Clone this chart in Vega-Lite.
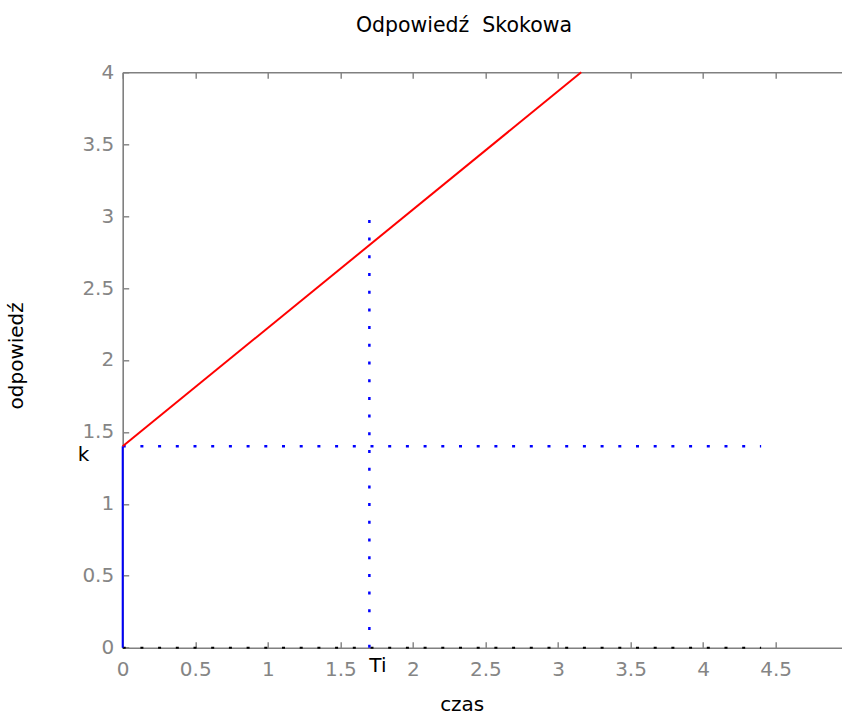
{
  "$schema": "https://vega.github.io/schema/vega-lite/v6.json",
  "autosize": "none",
  "padding": {"left": 122.7, "top": 72.3, "right": 0, "bottom": 67.3},
  "width": 725.5,
  "height": 575.4,
  "background": "white",
  "config": {
    "font": "DejaVu Sans",
    "view": {"stroke": null},
    "axis": {
      "grid": false,
      "domainColor": "#808080",
      "domainWidth": 1.6,
      "tickColor": "#808080",
      "tickWidth": 1.4,
      "labelColor": "#858585",
      "labelFontSize": 20,
      "titleFontSize": 20,
      "titleFontWeight": "normal",
      "titleColor": "black"
    }
  },
  "title": {
    "text": "Odpowiedź\u00a0 Skokowa",
    "fontSize": 20.5,
    "fontWeight": "normal",
    "color": "black",
    "anchor": "middle",
    "frame": "group",
    "dx": -21.5,
    "baseline": "alphabetic",
    "offset": 10
  },
  "data": {
    "values": [
      {"series": "step", "x": 0, "y": 0, "ord": 0},
      {"series": "step", "x": 0, "y": 1.4, "ord": 1},
      {"series": "resp", "x": 0, "y": 1.4, "ord": 0},
      {"series": "resp", "x": 3.16, "y": 4.0, "ord": 1},
      {"series": "kline", "x": 0, "y": 1.4, "ord": 0},
      {"series": "kline", "x": 4.4, "y": 1.4, "ord": 1},
      {"series": "tiline", "x": 1.7, "y": 0, "ord": 0},
      {"series": "tiline", "x": 1.7, "y": 3.0, "ord": 1},
      {"series": "zero", "x": 0, "y": 0, "ord": 0},
      {"series": "zero", "x": 4.4, "y": 0, "ord": 1},
      {"series": "label", "x": -0.31, "y": 1.34, "ord": 0, "label": "k"},
      {"series": "label", "x": 1.7, "y": -0.13, "ord": 1, "label": "Ti"}
    ]
  },
  "resolve": {"axis": {"x": "independent", "y": "independent"}},
  "layer": [
    {
      "transform": [{"filter": "datum.series === 'zero'"}],
      "mark": {"type": "line", "color": "black", "strokeWidth": 2, "strokeDash": [3, 14.7], "strokeCap": "butt"},
      "encoding": {
        "x": {"field": "x", "type": "quantitative", "scale": {"domain": [0, 5], "nice": false, "zero": false},
          "axis": {"orient": "bottom", "values": [0, 0.5, 1, 1.5, 2, 2.5, 3, 3.5, 4, 4.5], "format": "~g", "tickSize": -6, "labelPadding": 18, "title": "czas", "titleX": 339, "titleY": 63, "titleBaseline": "alphabetic", "titleAlign": "center", "labelFlush": false, "labelOverlap": false}},
        "y": {"field": "y", "type": "quantitative", "scale": {"domain": [0, 4], "nice": false, "zero": false},
          "axis": {"orient": "left", "values": [0, 0.5, 1, 1.5, 2, 2.5, 3, 3.5, 4], "format": "~g", "tickSize": -6, "labelPadding": 15, "title": "odpowiedź", "titleX": -106, "titleY": 283, "titleAngle": 270, "titleBaseline": "middle", "titleAlign": "center", "labelFlush": false, "labelOverlap": false}},
        "order": {"field": "ord"}
      }
    },
    {
      "transform": [{"filter": "datum.series === 'kline'"}],
      "mark": {"type": "line", "color": "#0000ff", "strokeWidth": 2.5, "strokeDash": [3, 14.7], "strokeCap": "butt"},
      "encoding": {
        "x": {"field": "x", "type": "quantitative",
          "axis": {"orient": "top", "values": [0, 0.5, 1, 1.5, 2, 2.5, 3, 3.5, 4, 4.5], "tickSize": -6, "labels": false, "title": null}},
        "y": {"field": "y", "type": "quantitative",
          "axis": {"orient": "right", "values": [0, 0.5, 1, 1.5, 2, 2.5, 3, 3.5, 4], "tickSize": -6, "labels": false, "title": null}},
        "order": {"field": "ord"}
      }
    },
    {
      "transform": [{"filter": "datum.series === 'tiline'"}],
      "mark": {"type": "line", "color": "#0000ff", "strokeWidth": 2.5, "strokeDash": [3, 14.7], "strokeCap": "butt"},
      "encoding": {
        "x": {"field": "x", "type": "quantitative", "axis": null},
        "y": {"field": "y", "type": "quantitative", "axis": null},
        "order": {"field": "ord"}
      }
    },
    {
      "transform": [{"filter": "datum.series === 'step'"}],
      "mark": {"type": "line", "color": "#0000ff", "strokeWidth": 2},
      "encoding": {
        "x": {"field": "x", "type": "quantitative", "axis": null},
        "y": {"field": "y", "type": "quantitative", "axis": null},
        "order": {"field": "ord"}
      }
    },
    {
      "transform": [{"filter": "datum.series === 'resp'"}],
      "mark": {"type": "line", "color": "#ff0000", "strokeWidth": 2},
      "encoding": {
        "x": {"field": "x", "type": "quantitative", "axis": null},
        "y": {"field": "y", "type": "quantitative", "axis": null},
        "order": {"field": "ord"}
      }
    },
    {
      "transform": [{"filter": "datum.series === 'label'"}],
      "mark": {"type": "text", "fontSize": 20, "color": "black", "align": "left", "baseline": "middle", "clip": false},
      "encoding": {
        "x": {"field": "x", "type": "quantitative", "axis": null},
        "y": {"field": "y", "type": "quantitative", "axis": null},
        "text": {"field": "label"}
      }
    }
  ]
}
